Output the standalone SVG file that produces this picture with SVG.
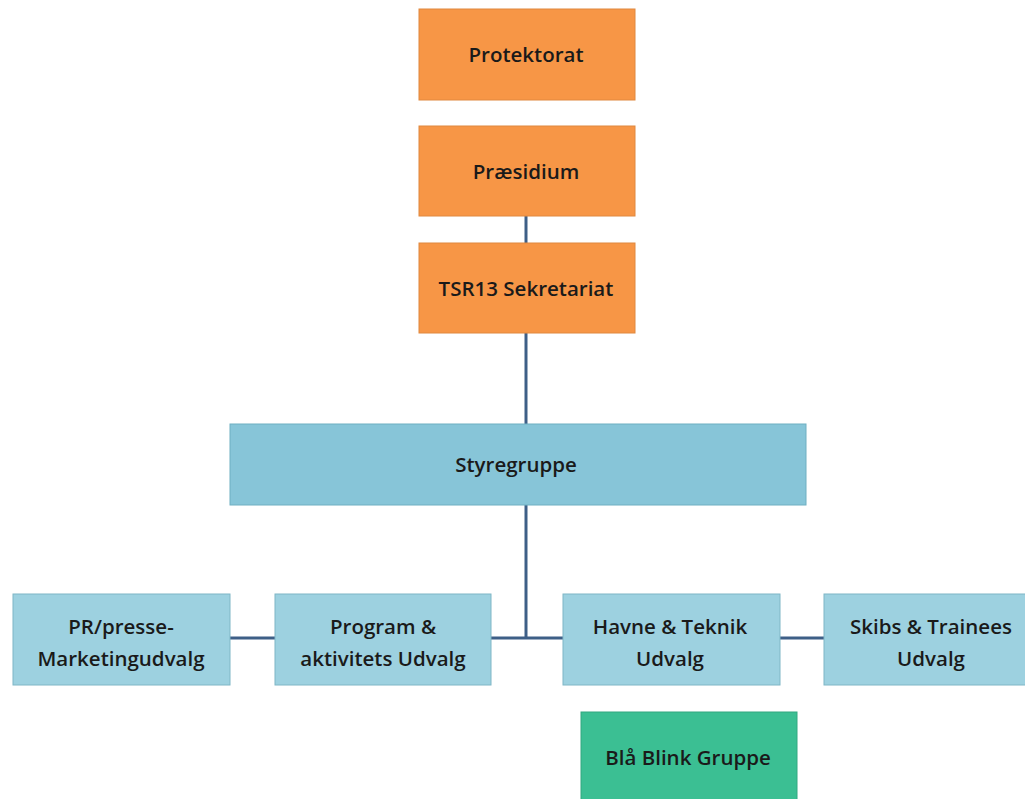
<svg xmlns="http://www.w3.org/2000/svg" width="1025" height="799" viewBox="0 0 1025 799">
<style>
.o{fill:#F79646;stroke:#E0883E;stroke-width:1}
.b{fill:#87C5D8;stroke:#6FAFC2;stroke-width:1}
.lb{fill:#9DD1E0;stroke:#7FB6C6;stroke-width:1}
.g{fill:#3BBF93;stroke:#33A880;stroke-width:1}
text{font-family:"Open Sans","Liberation Sans",sans-serif;font-weight:600;font-size:20.5px;fill:#1A1A1A;text-anchor:middle}
.c{stroke:#3E5F87;stroke-width:3;fill:none}
</style>
<rect width="1025" height="799" fill="#FFFFFF"/>
<g id="connectors">
<line class="c" x1="526" y1="216" x2="526" y2="243"/>
<line class="c" x1="526" y1="333" x2="526" y2="424"/>
<line class="c" x1="526" y1="505" x2="526" y2="638"/>
<line class="c" x1="491" y1="638" x2="563" y2="638"/>
<line class="c" x1="230" y1="638" x2="275" y2="638"/>
<line class="c" x1="780" y1="638" x2="824" y2="638"/>
</g>
<g id="protektorat"><rect class="o" x="419" y="9" width="216" height="91"/><text x="526" y="62">Protektorat</text></g>
<g id="praesidium"><rect class="o" x="419" y="126" width="216" height="90"/><text x="526" y="179">Præsidium</text></g>
<g id="sekretariat"><rect class="o" x="419" y="243" width="216" height="90"/><text x="526" y="296">TSR13 Sekretariat</text></g>
<g id="styregruppe"><rect class="b" x="230" y="424" width="576" height="81"/><text x="516" y="472">Styregruppe</text></g>
<g id="pr"><rect class="lb" x="13" y="594" width="217" height="91"/><text x="121" y="634">PR/presse-</text><text x="121" y="666">Marketingudvalg</text></g>
<g id="program"><rect class="lb" x="275" y="594" width="216" height="91"/><text x="383" y="634">Program &amp;</text><text x="383" y="666">aktivitets Udvalg</text></g>
<g id="havne"><rect class="lb" x="563" y="594" width="217" height="91"/><text x="670" y="634">Havne &amp; Teknik</text><text x="670" y="666">Udvalg</text></g>
<g id="skibs"><rect class="lb" x="824" y="594" width="216" height="91"/><text x="931" y="634">Skibs &amp; Trainees</text><text x="931" y="666">Udvalg</text></g>
<g id="blaablink"><rect class="g" x="581" y="712" width="216" height="95"/><text x="688" y="765">Blå Blink Gruppe</text></g>
</svg>
